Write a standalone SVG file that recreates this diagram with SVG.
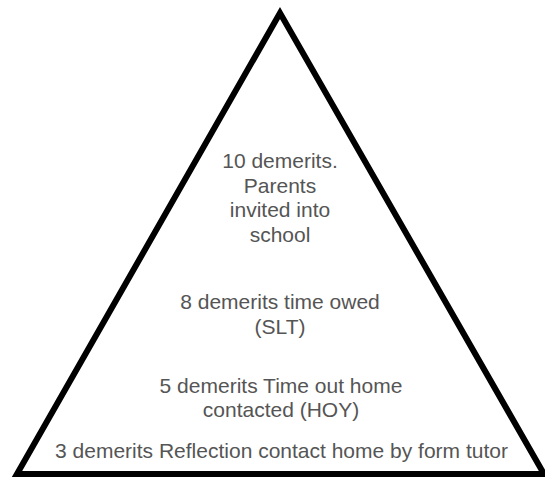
<svg xmlns="http://www.w3.org/2000/svg" width="545" height="479" viewBox="0 0 545 479">
  <style>
    .tri { fill: #ffffff; stroke: #000000; stroke-width: 6; stroke-linejoin: miter; }
    .lbl { font-family: "Liberation Sans", Arial, sans-serif; font-size: 21px; fill: #555555; text-anchor: middle; }
  </style>
  <rect x="0" y="0" width="545" height="479" fill="#ffffff"/>
  <g id="pyramid">
    <polygon class="tri" points="280,13 17,474 544,474"/>
  </g>
  <g id="level-10">
    <text class="lbl" x="280" y="168">10 demerits.</text>
    <text class="lbl" x="280" y="193">Parents</text>
    <text class="lbl" x="280" y="217">invited into</text>
    <text class="lbl" x="280" y="242">school</text>
  </g>
  <g id="level-8">
    <text class="lbl" x="280" y="309">8 demerits time owed</text>
    <text class="lbl" x="280" y="334">(SLT)</text>
  </g>
  <g id="level-5">
    <text class="lbl" x="281" y="393">5 demerits Time out home</text>
    <text class="lbl" x="281" y="417">contacted (HOY)</text>
  </g>
  <g id="level-3">
    <text class="lbl" x="281.5" y="458">3 demerits Reflection contact home by form tutor</text>
  </g>
</svg>
